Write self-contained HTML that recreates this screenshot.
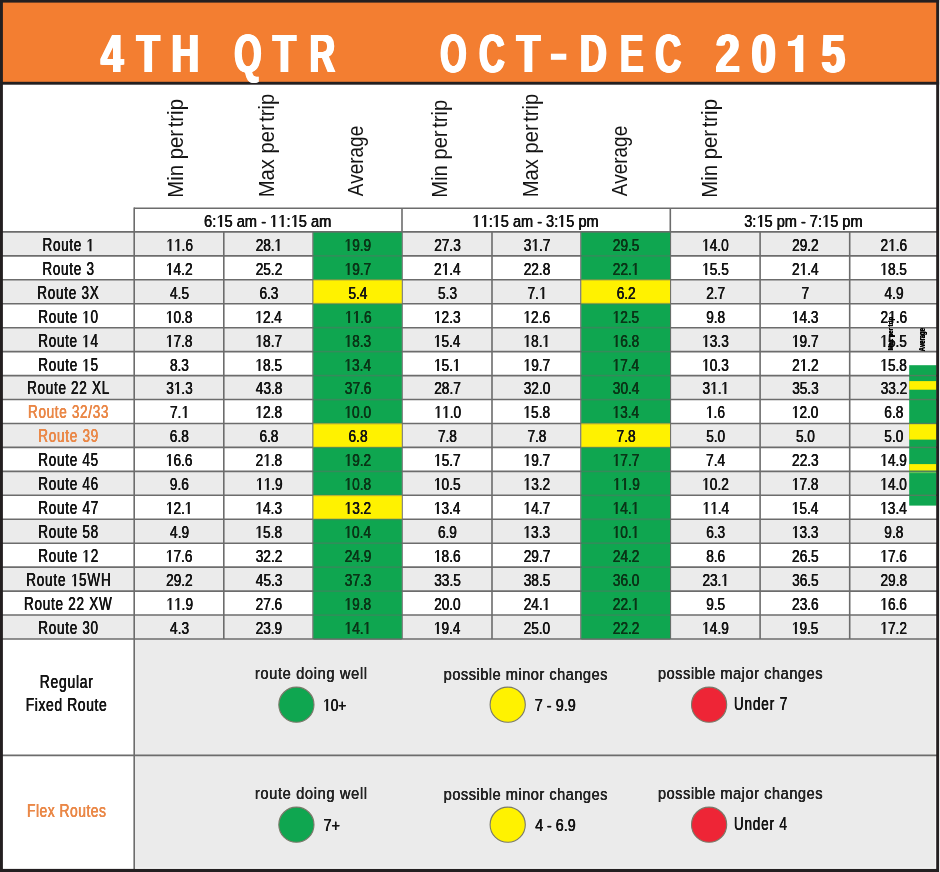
<!DOCTYPE html>
<html><head><meta charset="utf-8"><title>4TH QTR OCT-DEC 2015</title>
<style>
html,body{margin:0;padding:0;background:#fff;overflow:hidden;}
#p{will-change:transform;position:relative;width:940px;height:872px;overflow:hidden;font-family:"Liberation Sans",sans-serif;}
#bg{position:absolute;left:0;top:0;}
svg.g1{position:static;display:inline-block;width:0.5562em;height:0.688em;vertical-align:baseline;fill:currentColor;overflow:visible;}
.t{font-kerning:none;position:absolute;left:0;top:0;line-height:1;white-space:nowrap;transform-origin:0 0;}
</style></head><body>
<div id="p">
<svg id="bg" width="940" height="872" viewBox="0 0 940 872" shape-rendering="geometricPrecision">
<rect x="0.00" y="0.00" width="940.00" height="872.00" fill="#ffffff"/>
<rect x="0.00" y="0.00" width="940.00" height="82.00" fill="#f37e31"/>
<rect x="0.00" y="81.80" width="940.00" height="2.90" fill="#231f20"/>
<rect x="2.00" y="231.90" width="933.50" height="23.95" fill="#ebebeb"/>
<rect x="2.00" y="279.79" width="933.50" height="23.95" fill="#ebebeb"/>
<rect x="2.00" y="327.69" width="933.50" height="23.95" fill="#ebebeb"/>
<rect x="2.00" y="375.58" width="933.50" height="23.95" fill="#ebebeb"/>
<rect x="2.00" y="423.48" width="933.50" height="23.95" fill="#ebebeb"/>
<rect x="2.00" y="471.37" width="933.50" height="23.95" fill="#ebebeb"/>
<rect x="2.00" y="519.26" width="933.50" height="23.95" fill="#ebebeb"/>
<rect x="2.00" y="567.16" width="933.50" height="23.95" fill="#ebebeb"/>
<rect x="2.00" y="615.05" width="933.50" height="23.95" fill="#ebebeb"/>
<rect x="134.30" y="639.00" width="801.20" height="228.80" fill="#ebebeb"/>
<line x1="2.00" y1="231.90" x2="937.00" y2="231.90" stroke="#6c6c6c" stroke-width="1.6"/>
<line x1="2.00" y1="255.85" x2="937.00" y2="255.85" stroke="#6c6c6c" stroke-width="1.6"/>
<line x1="2.00" y1="279.79" x2="937.00" y2="279.79" stroke="#6c6c6c" stroke-width="1.6"/>
<line x1="2.00" y1="303.74" x2="937.00" y2="303.74" stroke="#6c6c6c" stroke-width="1.6"/>
<line x1="2.00" y1="327.69" x2="937.00" y2="327.69" stroke="#6c6c6c" stroke-width="1.6"/>
<line x1="2.00" y1="351.64" x2="937.00" y2="351.64" stroke="#6c6c6c" stroke-width="1.6"/>
<line x1="2.00" y1="375.58" x2="937.00" y2="375.58" stroke="#6c6c6c" stroke-width="1.6"/>
<line x1="2.00" y1="399.53" x2="937.00" y2="399.53" stroke="#6c6c6c" stroke-width="1.6"/>
<line x1="2.00" y1="423.48" x2="937.00" y2="423.48" stroke="#6c6c6c" stroke-width="1.6"/>
<line x1="2.00" y1="447.42" x2="937.00" y2="447.42" stroke="#6c6c6c" stroke-width="1.6"/>
<line x1="2.00" y1="471.37" x2="937.00" y2="471.37" stroke="#6c6c6c" stroke-width="1.6"/>
<line x1="2.00" y1="495.32" x2="937.00" y2="495.32" stroke="#6c6c6c" stroke-width="1.6"/>
<line x1="2.00" y1="519.26" x2="937.00" y2="519.26" stroke="#6c6c6c" stroke-width="1.6"/>
<line x1="2.00" y1="543.21" x2="937.00" y2="543.21" stroke="#6c6c6c" stroke-width="1.6"/>
<line x1="2.00" y1="567.16" x2="937.00" y2="567.16" stroke="#6c6c6c" stroke-width="1.6"/>
<line x1="2.00" y1="591.11" x2="937.00" y2="591.11" stroke="#6c6c6c" stroke-width="1.6"/>
<line x1="2.00" y1="615.05" x2="937.00" y2="615.05" stroke="#6c6c6c" stroke-width="1.6"/>
<line x1="2.00" y1="639.00" x2="937.00" y2="639.00" stroke="#6c6c6c" stroke-width="1.6"/>
<line x1="134.00" y1="208.20" x2="937.00" y2="208.20" stroke="#6c6c6c" stroke-width="1.6"/>
<line x1="2.00" y1="755.40" x2="937.00" y2="755.40" stroke="#6c6c6c" stroke-width="1.6"/>
<line x1="134.20" y1="207.50" x2="134.20" y2="869.00" stroke="#6c6c6c" stroke-width="1.6"/>
<line x1="402.00" y1="208.20" x2="402.00" y2="639.00" stroke="#6c6c6c" stroke-width="1.6"/>
<line x1="670.30" y1="208.20" x2="670.30" y2="639.00" stroke="#6c6c6c" stroke-width="1.6"/>
<line x1="223.80" y1="231.90" x2="223.80" y2="639.00" stroke="#6c6c6c" stroke-width="1.6"/>
<line x1="313.10" y1="231.90" x2="313.10" y2="639.00" stroke="#6c6c6c" stroke-width="1.6"/>
<line x1="492.00" y1="231.90" x2="492.00" y2="639.00" stroke="#6c6c6c" stroke-width="1.6"/>
<line x1="581.00" y1="231.90" x2="581.00" y2="639.00" stroke="#6c6c6c" stroke-width="1.6"/>
<line x1="760.10" y1="231.90" x2="760.10" y2="639.00" stroke="#6c6c6c" stroke-width="1.6"/>
<line x1="849.70" y1="231.90" x2="849.70" y2="639.00" stroke="#6c6c6c" stroke-width="1.6"/>
<rect x="313.45" y="231.80" width="88.30" height="24.15" fill="#0fa650"/>
<rect x="581.35" y="231.80" width="88.70" height="24.15" fill="#0fa650"/>
<rect x="313.45" y="255.75" width="88.30" height="24.15" fill="#0fa650"/>
<rect x="581.35" y="255.75" width="88.70" height="24.15" fill="#0fa650"/>
<rect x="313.45" y="279.69" width="88.30" height="24.15" fill="#fff200"/>
<rect x="581.35" y="279.69" width="88.70" height="24.15" fill="#fff200"/>
<rect x="313.45" y="303.64" width="88.30" height="24.15" fill="#0fa650"/>
<rect x="581.35" y="303.64" width="88.70" height="24.15" fill="#0fa650"/>
<rect x="313.45" y="327.59" width="88.30" height="24.15" fill="#0fa650"/>
<rect x="581.35" y="327.59" width="88.70" height="24.15" fill="#0fa650"/>
<rect x="313.45" y="351.54" width="88.30" height="24.15" fill="#0fa650"/>
<rect x="581.35" y="351.54" width="88.70" height="24.15" fill="#0fa650"/>
<rect x="313.45" y="375.48" width="88.30" height="24.15" fill="#0fa650"/>
<rect x="581.35" y="375.48" width="88.70" height="24.15" fill="#0fa650"/>
<rect x="313.45" y="399.43" width="88.30" height="24.15" fill="#0fa650"/>
<rect x="581.35" y="399.43" width="88.70" height="24.15" fill="#0fa650"/>
<rect x="313.45" y="423.38" width="88.30" height="24.15" fill="#fff200"/>
<rect x="581.35" y="423.38" width="88.70" height="24.15" fill="#fff200"/>
<rect x="313.45" y="447.32" width="88.30" height="24.15" fill="#0fa650"/>
<rect x="581.35" y="447.32" width="88.70" height="24.15" fill="#0fa650"/>
<rect x="313.45" y="471.27" width="88.30" height="24.15" fill="#0fa650"/>
<rect x="581.35" y="471.27" width="88.70" height="24.15" fill="#0fa650"/>
<rect x="313.45" y="495.22" width="88.30" height="24.15" fill="#fff200"/>
<rect x="581.35" y="495.22" width="88.70" height="24.15" fill="#0fa650"/>
<rect x="313.45" y="519.16" width="88.30" height="24.15" fill="#0fa650"/>
<rect x="581.35" y="519.16" width="88.70" height="24.15" fill="#0fa650"/>
<rect x="313.45" y="543.11" width="88.30" height="24.15" fill="#0fa650"/>
<rect x="581.35" y="543.11" width="88.70" height="24.15" fill="#0fa650"/>
<rect x="313.45" y="567.06" width="88.30" height="24.15" fill="#0fa650"/>
<rect x="581.35" y="567.06" width="88.70" height="24.15" fill="#0fa650"/>
<rect x="313.45" y="591.01" width="88.30" height="24.15" fill="#0fa650"/>
<rect x="581.35" y="591.01" width="88.70" height="24.15" fill="#0fa650"/>
<rect x="313.45" y="614.95" width="88.30" height="24.15" fill="#0fa650"/>
<rect x="581.35" y="614.95" width="88.70" height="24.15" fill="#0fa650"/>
<line x1="313.45" y1="255.85" x2="401.75" y2="255.85" stroke="rgba(110,100,110,0.33)" stroke-width="1.8"/>
<line x1="313.45" y1="279.79" x2="401.75" y2="279.79" stroke="rgba(110,100,110,0.33)" stroke-width="1.8"/>
<line x1="313.45" y1="303.74" x2="401.75" y2="303.74" stroke="rgba(110,100,110,0.33)" stroke-width="1.8"/>
<line x1="313.45" y1="327.69" x2="401.75" y2="327.69" stroke="rgba(110,100,110,0.33)" stroke-width="1.8"/>
<line x1="313.45" y1="351.64" x2="401.75" y2="351.64" stroke="rgba(110,100,110,0.33)" stroke-width="1.8"/>
<line x1="313.45" y1="375.58" x2="401.75" y2="375.58" stroke="rgba(110,100,110,0.33)" stroke-width="1.8"/>
<line x1="313.45" y1="399.53" x2="401.75" y2="399.53" stroke="rgba(110,100,110,0.33)" stroke-width="1.8"/>
<line x1="313.45" y1="423.48" x2="401.75" y2="423.48" stroke="rgba(110,100,110,0.33)" stroke-width="1.8"/>
<line x1="313.45" y1="447.42" x2="401.75" y2="447.42" stroke="rgba(110,100,110,0.33)" stroke-width="1.8"/>
<line x1="313.45" y1="471.37" x2="401.75" y2="471.37" stroke="rgba(110,100,110,0.33)" stroke-width="1.8"/>
<line x1="313.45" y1="495.32" x2="401.75" y2="495.32" stroke="rgba(110,100,110,0.33)" stroke-width="1.8"/>
<line x1="313.45" y1="519.26" x2="401.75" y2="519.26" stroke="rgba(110,100,110,0.33)" stroke-width="1.8"/>
<line x1="313.45" y1="543.21" x2="401.75" y2="543.21" stroke="rgba(110,100,110,0.33)" stroke-width="1.8"/>
<line x1="313.45" y1="567.16" x2="401.75" y2="567.16" stroke="rgba(110,100,110,0.33)" stroke-width="1.8"/>
<line x1="313.45" y1="591.11" x2="401.75" y2="591.11" stroke="rgba(110,100,110,0.33)" stroke-width="1.8"/>
<line x1="313.45" y1="615.05" x2="401.75" y2="615.05" stroke="rgba(110,100,110,0.33)" stroke-width="1.8"/>
<line x1="313.45" y1="231.90" x2="401.75" y2="231.90" stroke="rgba(108,108,108,0.8)" stroke-width="1.6"/>
<line x1="313.45" y1="639.00" x2="401.75" y2="639.00" stroke="rgba(108,108,108,0.8)" stroke-width="1.6"/>
<line x1="581.35" y1="255.85" x2="670.05" y2="255.85" stroke="rgba(110,100,110,0.33)" stroke-width="1.8"/>
<line x1="581.35" y1="279.79" x2="670.05" y2="279.79" stroke="rgba(110,100,110,0.33)" stroke-width="1.8"/>
<line x1="581.35" y1="303.74" x2="670.05" y2="303.74" stroke="rgba(110,100,110,0.33)" stroke-width="1.8"/>
<line x1="581.35" y1="327.69" x2="670.05" y2="327.69" stroke="rgba(110,100,110,0.33)" stroke-width="1.8"/>
<line x1="581.35" y1="351.64" x2="670.05" y2="351.64" stroke="rgba(110,100,110,0.33)" stroke-width="1.8"/>
<line x1="581.35" y1="375.58" x2="670.05" y2="375.58" stroke="rgba(110,100,110,0.33)" stroke-width="1.8"/>
<line x1="581.35" y1="399.53" x2="670.05" y2="399.53" stroke="rgba(110,100,110,0.33)" stroke-width="1.8"/>
<line x1="581.35" y1="423.48" x2="670.05" y2="423.48" stroke="rgba(110,100,110,0.33)" stroke-width="1.8"/>
<line x1="581.35" y1="447.42" x2="670.05" y2="447.42" stroke="rgba(110,100,110,0.33)" stroke-width="1.8"/>
<line x1="581.35" y1="471.37" x2="670.05" y2="471.37" stroke="rgba(110,100,110,0.33)" stroke-width="1.8"/>
<line x1="581.35" y1="495.32" x2="670.05" y2="495.32" stroke="rgba(110,100,110,0.33)" stroke-width="1.8"/>
<line x1="581.35" y1="519.26" x2="670.05" y2="519.26" stroke="rgba(110,100,110,0.33)" stroke-width="1.8"/>
<line x1="581.35" y1="543.21" x2="670.05" y2="543.21" stroke="rgba(110,100,110,0.33)" stroke-width="1.8"/>
<line x1="581.35" y1="567.16" x2="670.05" y2="567.16" stroke="rgba(110,100,110,0.33)" stroke-width="1.8"/>
<line x1="581.35" y1="591.11" x2="670.05" y2="591.11" stroke="rgba(110,100,110,0.33)" stroke-width="1.8"/>
<line x1="581.35" y1="615.05" x2="670.05" y2="615.05" stroke="rgba(110,100,110,0.33)" stroke-width="1.8"/>
<line x1="581.35" y1="231.90" x2="670.05" y2="231.90" stroke="rgba(108,108,108,0.8)" stroke-width="1.6"/>
<line x1="581.35" y1="639.00" x2="670.05" y2="639.00" stroke="rgba(108,108,108,0.8)" stroke-width="1.6"/>
<rect x="909.20" y="365.20" width="27.40" height="140.40" fill="#0fa650"/>
<rect x="909.20" y="381.10" width="27.40" height="8.60" fill="#fff200"/>
<rect x="909.20" y="423.50" width="27.40" height="16.10" fill="#fff200"/>
<rect x="909.20" y="464.10" width="27.40" height="6.60" fill="#fff200"/>
<rect x="909.20" y="472.30" width="27.40" height="0.80" fill="#8ed25a"/>
<line x1="909.20" y1="375.58" x2="936.60" y2="375.58" stroke="#4f7f5e" stroke-width="1.4"/>
<line x1="909.20" y1="399.53" x2="936.60" y2="399.53" stroke="#4f7f5e" stroke-width="1.4"/>
<line x1="909.20" y1="423.48" x2="936.60" y2="423.48" stroke="#4f7f5e" stroke-width="1.4"/>
<line x1="909.20" y1="447.42" x2="936.60" y2="447.42" stroke="#4f7f5e" stroke-width="1.4"/>
<line x1="909.20" y1="471.37" x2="936.60" y2="471.37" stroke="#4f7f5e" stroke-width="1.4"/>
<line x1="909.20" y1="495.32" x2="936.60" y2="495.32" stroke="#4f7f5e" stroke-width="1.4"/>
<rect x="0.00" y="0.00" width="940.00" height="2.60" fill="#231f20"/>
<rect x="0.00" y="0.00" width="2.90" height="872.00" fill="#231f20"/>
<rect x="936.20" y="0.00" width="2.80" height="872.00" fill="#231f20"/>
<rect x="0.00" y="868.90" width="939.00" height="3.20" fill="#231f20"/>
<rect x="939.10" y="0.00" width="1.00" height="872.00" fill="#e2e2e2"/>
<circle cx="296.4" cy="704.7" r="17.6" fill="#0fa650" stroke="#7a7a6a" stroke-width="1.1"/>
<circle cx="507.7" cy="704.7" r="17.6" fill="#fff200" stroke="#7a7a6a" stroke-width="1.1"/>
<circle cx="709.1" cy="704.7" r="17.6" fill="#ee2536" stroke="#7a7a6a" stroke-width="1.1"/>
<circle cx="296.4" cy="824.7" r="17.6" fill="#0fa650" stroke="#7a7a6a" stroke-width="1.1"/>
<circle cx="507.7" cy="824.7" r="17.6" fill="#fff200" stroke="#7a7a6a" stroke-width="1.1"/>
<circle cx="709.1" cy="824.7" r="17.6" fill="#ee2536" stroke="#7a7a6a" stroke-width="1.1"/>
<rect x="550.9" y="53.7" width="15.4" height="6.1" fill="#ffffff"/>
<path d="M803.3 34.9 L803.3 72 L795.1 72 L795.1 45.9 L787.9 45.9 L787.9 41.2 Q796.6 41.0 797.8 34.9 Z" fill="#ffffff"/>
</svg>
<div class="t" style="font-size:54px;font-weight:bold;color:#ffffff;text-shadow:1.60px 0 0 #ffffff,-1.60px 0 0 #ffffff,0.80px 0 0 #ffffff,-0.80px 0 0 #ffffff;transform:translate(100.89px,26.00px) scale(0.7479,1);">4</div>
<div class="t" style="font-size:54px;font-weight:bold;color:#ffffff;text-shadow:1.60px 0 0 #ffffff,-1.60px 0 0 #ffffff,0.80px 0 0 #ffffff,-0.80px 0 0 #ffffff;transform:translate(136.74px,26.00px) scale(0.7017,1);">T</div>
<div class="t" style="font-size:54px;font-weight:bold;color:#ffffff;text-shadow:1.60px 0 0 #ffffff,-1.60px 0 0 #ffffff,0.80px 0 0 #ffffff,-0.80px 0 0 #ffffff;transform:translate(171.44px,26.00px) scale(0.7130,1);">H</div>
<div class="t" style="font-size:54px;font-weight:bold;color:#ffffff;text-shadow:1.60px 0 0 #ffffff,-1.60px 0 0 #ffffff,0.80px 0 0 #ffffff,-0.80px 0 0 #ffffff;transform:translate(234.24px,26.00px) scale(0.6506,1);">Q</div>
<div class="t" style="font-size:54px;font-weight:bold;color:#ffffff;text-shadow:1.60px 0 0 #ffffff,-1.60px 0 0 #ffffff,0.80px 0 0 #ffffff,-0.80px 0 0 #ffffff;transform:translate(272.94px,26.00px) scale(0.6988,1);">T</div>
<div class="t" style="font-size:54px;font-weight:bold;color:#ffffff;text-shadow:1.60px 0 0 #ffffff,-1.60px 0 0 #ffffff,0.80px 0 0 #ffffff,-0.80px 0 0 #ffffff;transform:translate(309.45px,26.00px) scale(0.6585,1);">R</div>
<div class="t" style="font-size:54px;font-weight:bold;color:#ffffff;text-shadow:1.60px 0 0 #ffffff,-1.60px 0 0 #ffffff,0.80px 0 0 #ffffff,-0.80px 0 0 #ffffff;transform:translate(440.15px,26.00px) scale(0.6261,1);">O</div>
<div class="t" style="font-size:54px;font-weight:bold;color:#ffffff;text-shadow:1.60px 0 0 #ffffff,-1.60px 0 0 #ffffff,0.80px 0 0 #ffffff,-0.80px 0 0 #ffffff;transform:translate(479.13px,26.00px) scale(0.6534,1);">C</div>
<div class="t" style="font-size:54px;font-weight:bold;color:#ffffff;text-shadow:1.60px 0 0 #ffffff,-1.60px 0 0 #ffffff,0.80px 0 0 #ffffff,-0.80px 0 0 #ffffff;transform:translate(516.56px,26.00px) scale(0.7131,1);">T</div>
<div class="t" style="font-size:54px;font-weight:bold;color:#ffffff;text-shadow:1.60px 0 0 #ffffff,-1.60px 0 0 #ffffff,0.80px 0 0 #ffffff,-0.80px 0 0 #ffffff;transform:translate(579.79px,26.00px) scale(0.6892,1);">D</div>
<div class="t" style="font-size:54px;font-weight:bold;color:#ffffff;text-shadow:1.60px 0 0 #ffffff,-1.60px 0 0 #ffffff,0.80px 0 0 #ffffff,-0.80px 0 0 #ffffff;transform:translate(620.07px,26.00px) scale(0.6519,1);">E</div>
<div class="t" style="font-size:54px;font-weight:bold;color:#ffffff;text-shadow:1.60px 0 0 #ffffff,-1.60px 0 0 #ffffff,0.80px 0 0 #ffffff,-0.80px 0 0 #ffffff;transform:translate(655.33px,26.00px) scale(0.6611,1);">C</div>
<div class="t" style="font-size:54px;font-weight:bold;color:#ffffff;text-shadow:1.60px 0 0 #ffffff,-1.60px 0 0 #ffffff,0.80px 0 0 #ffffff,-0.80px 0 0 #ffffff;transform:translate(715.67px,26.00px) scale(0.7999,1);">2</div>
<div class="t" style="font-size:54px;font-weight:bold;color:#ffffff;text-shadow:1.60px 0 0 #ffffff,-1.60px 0 0 #ffffff,0.80px 0 0 #ffffff,-0.80px 0 0 #ffffff;transform:translate(751.65px,26.00px) scale(0.8007,1);">0</div>
<div class="t" style="font-size:54px;font-weight:bold;color:#ffffff;text-shadow:1.60px 0 0 #ffffff,-1.60px 0 0 #ffffff,0.80px 0 0 #ffffff,-0.80px 0 0 #ffffff;transform:translate(821.48px,26.00px) scale(0.7850,1);">5</div>
<div class="t" style="font-size:22.3px;font-weight:normal;color:#141414;transform:translate(183.10px,196.00px) rotate(-90deg) scale(0.9120,1) translate(-1.84px,-18.00px);">Min per<span style="margin-left:-3.4px"> </span>trip</div>
<div class="t" style="font-size:22.3px;font-weight:normal;color:#141414;transform:translate(273.90px,195.50px) rotate(-90deg) scale(0.9036,1) translate(-1.84px,-18.00px);">Max per<span style="margin-left:-3.4px"> </span>trip</div>
<div class="t" style="font-size:22.3px;font-weight:normal;color:#141414;transform:translate(363.10px,196.30px) rotate(-90deg) scale(0.8491,1) translate(-0.06px,-18.00px);">Average</div>
<div class="t" style="font-size:22.3px;font-weight:normal;color:#141414;transform:translate(446.90px,196.00px) rotate(-90deg) scale(0.9044,1) translate(-1.84px,-18.00px);">Min per<span style="margin-left:-3.4px"> </span>trip</div>
<div class="t" style="font-size:22.3px;font-weight:normal;color:#141414;transform:translate(538.00px,195.50px) rotate(-90deg) scale(0.9036,1) translate(-1.84px,-18.00px);">Max per<span style="margin-left:-3.4px"> </span>trip</div>
<div class="t" style="font-size:22.3px;font-weight:normal;color:#141414;transform:translate(627.30px,196.30px) rotate(-90deg) scale(0.8491,1) translate(-0.06px,-18.00px);">Average</div>
<div class="t" style="font-size:22.3px;font-weight:normal;color:#141414;transform:translate(717.40px,196.00px) rotate(-90deg) scale(0.9120,1) translate(-1.84px,-18.00px);">Min per<span style="margin-left:-3.4px"> </span>trip</div>
<div class="t" style="font-size:17.4px;font-weight:normal;color:#141414;text-shadow:0.30px 0 0 #141414,-0.30px 0 0 #141414;transform:translate(204.02px,213.00px) scale(0.8442,1);">6:<svg class="g1" style="" viewBox="0 0 1139 1409"><path transform="translate(0,1409) scale(1,-1)" d="M455 0V1237L162 1010V1180L495 1409H756V0Z"/></svg>5 am - <svg class="g1" style="" viewBox="0 0 1139 1409"><path transform="translate(0,1409) scale(1,-1)" d="M455 0V1237L162 1010V1180L495 1409H756V0Z"/></svg><svg class="g1" style="" viewBox="0 0 1139 1409"><path transform="translate(0,1409) scale(1,-1)" d="M455 0V1237L162 1010V1180L495 1409H756V0Z"/></svg>:<svg class="g1" style="" viewBox="0 0 1139 1409"><path transform="translate(0,1409) scale(1,-1)" d="M455 0V1237L162 1010V1180L495 1409H756V0Z"/></svg>5 am</div>
<div class="t" style="font-size:17.4px;font-weight:normal;color:#141414;text-shadow:0.30px 0 0 #141414,-0.30px 0 0 #141414;transform:translate(472.46px,213.00px) scale(0.8372,1);"><svg class="g1" style="" viewBox="0 0 1139 1409"><path transform="translate(0,1409) scale(1,-1)" d="M455 0V1237L162 1010V1180L495 1409H756V0Z"/></svg><svg class="g1" style="" viewBox="0 0 1139 1409"><path transform="translate(0,1409) scale(1,-1)" d="M455 0V1237L162 1010V1180L495 1409H756V0Z"/></svg>:<svg class="g1" style="" viewBox="0 0 1139 1409"><path transform="translate(0,1409) scale(1,-1)" d="M455 0V1237L162 1010V1180L495 1409H756V0Z"/></svg>5 am - 3:<svg class="g1" style="" viewBox="0 0 1139 1409"><path transform="translate(0,1409) scale(1,-1)" d="M455 0V1237L162 1010V1180L495 1409H756V0Z"/></svg>5 pm</div>
<div class="t" style="font-size:17.4px;font-weight:normal;color:#141414;text-shadow:0.30px 0 0 #141414,-0.30px 0 0 #141414;transform:translate(744.20px,213.00px) scale(0.8385,1);">3:<svg class="g1" style="" viewBox="0 0 1139 1409"><path transform="translate(0,1409) scale(1,-1)" d="M455 0V1237L162 1010V1180L495 1409H756V0Z"/></svg>5 pm - 7:<svg class="g1" style="" viewBox="0 0 1139 1409"><path transform="translate(0,1409) scale(1,-1)" d="M455 0V1237L162 1010V1180L495 1409H756V0Z"/></svg>5 pm</div>
<div class="t" style="font-size:17.8px;font-weight:normal;color:#141414;letter-spacing:0.945px;text-shadow:0.30px 0 0 #141414,-0.30px 0 0 #141414;transform:translate(42.42px,237.00px) scale(0.7600,1);">Route <svg class="g1" style="margin-right:0.945px;" viewBox="0 0 1139 1409"><path transform="translate(0,1409) scale(1,-1)" d="M455 0V1237L162 1010V1180L495 1409H756V0Z"/></svg></div>
<div class="t" style="font-size:17.4px;font-weight:normal;color:#141414;text-shadow:0.30px 0 0 #141414,-0.30px 0 0 #141414;transform:translate(166.41px,237.00px) scale(0.7850,1);"><svg class="g1" style="" viewBox="0 0 1139 1409"><path transform="translate(0,1409) scale(1,-1)" d="M455 0V1237L162 1010V1180L495 1409H756V0Z"/></svg><svg class="g1" style="" viewBox="0 0 1139 1409"><path transform="translate(0,1409) scale(1,-1)" d="M455 0V1237L162 1010V1180L495 1409H756V0Z"/></svg>.6</div>
<div class="t" style="font-size:17.4px;font-weight:normal;color:#141414;text-shadow:0.30px 0 0 #141414,-0.30px 0 0 #141414;transform:translate(255.65px,237.00px) scale(0.7850,1);">28.<svg class="g1" style="" viewBox="0 0 1139 1409"><path transform="translate(0,1409) scale(1,-1)" d="M455 0V1237L162 1010V1180L495 1409H756V0Z"/></svg></div>
<div class="t" style="font-size:17.4px;font-weight:normal;color:#0a3517;text-shadow:0.30px 0 0 #0a3517,-0.30px 0 0 #0a3517;transform:translate(344.56px,237.00px) scale(0.7850,1);"><svg class="g1" style="" viewBox="0 0 1139 1409"><path transform="translate(0,1409) scale(1,-1)" d="M455 0V1237L162 1010V1180L495 1409H756V0Z"/></svg>9.9</div>
<div class="t" style="font-size:17.4px;font-weight:normal;color:#141414;text-shadow:0.30px 0 0 #141414,-0.30px 0 0 #141414;transform:translate(434.17px,237.00px) scale(0.7850,1);">27.3</div>
<div class="t" style="font-size:17.4px;font-weight:normal;color:#141414;text-shadow:0.30px 0 0 #141414,-0.30px 0 0 #141414;transform:translate(523.80px,237.00px) scale(0.7850,1);">3<svg class="g1" style="" viewBox="0 0 1139 1409"><path transform="translate(0,1409) scale(1,-1)" d="M455 0V1237L162 1010V1180L495 1409H756V0Z"/></svg>.7</div>
<div class="t" style="font-size:17.4px;font-weight:normal;color:#0a3517;text-shadow:0.30px 0 0 #0a3517,-0.30px 0 0 #0a3517;transform:translate(612.80px,237.00px) scale(0.7850,1);">29.5</div>
<div class="t" style="font-size:17.4px;font-weight:normal;color:#141414;text-shadow:0.30px 0 0 #141414,-0.30px 0 0 #141414;transform:translate(702.16px,237.00px) scale(0.7850,1);"><svg class="g1" style="" viewBox="0 0 1139 1409"><path transform="translate(0,1409) scale(1,-1)" d="M455 0V1237L162 1010V1180L495 1409H756V0Z"/></svg>4.0</div>
<div class="t" style="font-size:17.4px;font-weight:normal;color:#141414;text-shadow:0.30px 0 0 #141414,-0.30px 0 0 #141414;transform:translate(792.12px,237.00px) scale(0.7850,1);">29.2</div>
<div class="t" style="font-size:17.4px;font-weight:normal;color:#141414;text-shadow:0.30px 0 0 #141414,-0.30px 0 0 #141414;transform:translate(880.52px,237.00px) scale(0.7850,1);">2<svg class="g1" style="" viewBox="0 0 1139 1409"><path transform="translate(0,1409) scale(1,-1)" d="M455 0V1237L162 1010V1180L495 1409H756V0Z"/></svg>.6</div>
<div class="t" style="font-size:17.8px;font-weight:normal;color:#141414;letter-spacing:0.947px;text-shadow:0.30px 0 0 #141414,-0.30px 0 0 #141414;transform:translate(42.38px,261.00px) scale(0.7600,1);">Route 3</div>
<div class="t" style="font-size:17.4px;font-weight:normal;color:#141414;text-shadow:0.30px 0 0 #141414,-0.30px 0 0 #141414;transform:translate(165.95px,261.00px) scale(0.7850,1);"><svg class="g1" style="" viewBox="0 0 1139 1409"><path transform="translate(0,1409) scale(1,-1)" d="M455 0V1237L162 1010V1180L495 1409H756V0Z"/></svg>4.2</div>
<div class="t" style="font-size:17.4px;font-weight:normal;color:#141414;text-shadow:0.30px 0 0 #141414,-0.30px 0 0 #141414;transform:translate(255.67px,261.00px) scale(0.7850,1);">25.2</div>
<div class="t" style="font-size:17.4px;font-weight:normal;color:#0a3517;text-shadow:0.30px 0 0 #0a3517,-0.30px 0 0 #0a3517;transform:translate(344.60px,261.00px) scale(0.7850,1);"><svg class="g1" style="" viewBox="0 0 1139 1409"><path transform="translate(0,1409) scale(1,-1)" d="M455 0V1237L162 1010V1180L495 1409H756V0Z"/></svg>9.7</div>
<div class="t" style="font-size:17.4px;font-weight:normal;color:#141414;text-shadow:0.30px 0 0 #141414,-0.30px 0 0 #141414;transform:translate(434.06px,261.00px) scale(0.7850,1);">2<svg class="g1" style="" viewBox="0 0 1139 1409"><path transform="translate(0,1409) scale(1,-1)" d="M455 0V1237L162 1010V1180L495 1409H756V0Z"/></svg>.4</div>
<div class="t" style="font-size:17.4px;font-weight:normal;color:#141414;text-shadow:0.30px 0 0 #141414,-0.30px 0 0 #141414;transform:translate(523.67px,261.00px) scale(0.7850,1);">22.8</div>
<div class="t" style="font-size:17.4px;font-weight:normal;color:#0a3517;text-shadow:0.30px 0 0 #0a3517,-0.30px 0 0 #0a3517;transform:translate(612.85px,261.00px) scale(0.7850,1);">22.<svg class="g1" style="" viewBox="0 0 1139 1409"><path transform="translate(0,1409) scale(1,-1)" d="M455 0V1237L162 1010V1180L495 1409H756V0Z"/></svg></div>
<div class="t" style="font-size:17.4px;font-weight:normal;color:#141414;text-shadow:0.30px 0 0 #141414,-0.30px 0 0 #141414;transform:translate(702.18px,261.00px) scale(0.7850,1);"><svg class="g1" style="" viewBox="0 0 1139 1409"><path transform="translate(0,1409) scale(1,-1)" d="M455 0V1237L162 1010V1180L495 1409H756V0Z"/></svg>5.5</div>
<div class="t" style="font-size:17.4px;font-weight:normal;color:#141414;text-shadow:0.30px 0 0 #141414,-0.30px 0 0 #141414;transform:translate(791.96px,261.00px) scale(0.7850,1);">2<svg class="g1" style="" viewBox="0 0 1139 1409"><path transform="translate(0,1409) scale(1,-1)" d="M455 0V1237L162 1010V1180L495 1409H756V0Z"/></svg>.4</div>
<div class="t" style="font-size:17.4px;font-weight:normal;color:#141414;text-shadow:0.30px 0 0 #141414,-0.30px 0 0 #141414;transform:translate(880.33px,261.00px) scale(0.7850,1);"><svg class="g1" style="" viewBox="0 0 1139 1409"><path transform="translate(0,1409) scale(1,-1)" d="M455 0V1237L162 1010V1180L495 1409H756V0Z"/></svg>8.5</div>
<div class="t" style="font-size:17.8px;font-weight:normal;color:#141414;letter-spacing:0.974px;text-shadow:0.30px 0 0 #141414,-0.30px 0 0 #141414;transform:translate(37.30px,285.00px) scale(0.7600,1);">Route 3X</div>
<div class="t" style="font-size:17.4px;font-weight:normal;color:#141414;text-shadow:0.30px 0 0 #141414,-0.30px 0 0 #141414;transform:translate(170.03px,285.00px) scale(0.7850,1);">4.5</div>
<div class="t" style="font-size:17.4px;font-weight:normal;color:#141414;text-shadow:0.30px 0 0 #141414,-0.30px 0 0 #141414;transform:translate(259.41px,285.00px) scale(0.7850,1);">6.3</div>
<div class="t" style="font-size:17.4px;font-weight:normal;color:#141414;text-shadow:0.30px 0 0 #141414,-0.30px 0 0 #141414;transform:translate(348.47px,285.00px) scale(0.7850,1);">5.4</div>
<div class="t" style="font-size:17.4px;font-weight:normal;color:#141414;text-shadow:0.30px 0 0 #141414,-0.30px 0 0 #141414;transform:translate(438.02px,285.00px) scale(0.7850,1);">5.3</div>
<div class="t" style="font-size:17.4px;font-weight:normal;color:#141414;text-shadow:0.30px 0 0 #141414,-0.30px 0 0 #141414;transform:translate(527.49px,285.00px) scale(0.7850,1);">7.<svg class="g1" style="" viewBox="0 0 1139 1409"><path transform="translate(0,1409) scale(1,-1)" d="M455 0V1237L162 1010V1180L495 1409H756V0Z"/></svg></div>
<div class="t" style="font-size:17.4px;font-weight:normal;color:#141414;text-shadow:0.30px 0 0 #141414,-0.30px 0 0 #141414;transform:translate(616.66px,285.00px) scale(0.7850,1);">6.2</div>
<div class="t" style="font-size:17.4px;font-weight:normal;color:#141414;text-shadow:0.30px 0 0 #141414,-0.30px 0 0 #141414;transform:translate(706.21px,285.00px) scale(0.7850,1);">2.7</div>
<div class="t" style="font-size:17.4px;font-weight:normal;color:#141414;text-shadow:0.30px 0 0 #141414,-0.30px 0 0 #141414;transform:translate(801.61px,285.00px) scale(0.7850,1);">7</div>
<div class="t" style="font-size:17.4px;font-weight:normal;color:#141414;text-shadow:0.30px 0 0 #141414,-0.30px 0 0 #141414;transform:translate(884.51px,285.00px) scale(0.7850,1);">4.9</div>
<div class="t" style="font-size:17.8px;font-weight:normal;color:#141414;letter-spacing:0.944px;text-shadow:0.30px 0 0 #141414,-0.30px 0 0 #141414;transform:translate(38.24px,309.00px) scale(0.7600,1);">Route <svg class="g1" style="margin-right:0.944px;" viewBox="0 0 1139 1409"><path transform="translate(0,1409) scale(1,-1)" d="M455 0V1237L162 1010V1180L495 1409H756V0Z"/></svg>0</div>
<div class="t" style="font-size:17.4px;font-weight:normal;color:#141414;text-shadow:0.30px 0 0 #141414,-0.30px 0 0 #141414;transform:translate(165.89px,309.00px) scale(0.7850,1);"><svg class="g1" style="" viewBox="0 0 1139 1409"><path transform="translate(0,1409) scale(1,-1)" d="M455 0V1237L162 1010V1180L495 1409H756V0Z"/></svg>0.8</div>
<div class="t" style="font-size:17.4px;font-weight:normal;color:#141414;text-shadow:0.30px 0 0 #141414,-0.30px 0 0 #141414;transform:translate(255.34px,309.00px) scale(0.7850,1);"><svg class="g1" style="" viewBox="0 0 1139 1409"><path transform="translate(0,1409) scale(1,-1)" d="M455 0V1237L162 1010V1180L495 1409H756V0Z"/></svg>2.4</div>
<div class="t" style="font-size:17.4px;font-weight:normal;color:#0a3517;text-shadow:0.30px 0 0 #0a3517,-0.30px 0 0 #0a3517;transform:translate(345.06px,309.00px) scale(0.7850,1);"><svg class="g1" style="" viewBox="0 0 1139 1409"><path transform="translate(0,1409) scale(1,-1)" d="M455 0V1237L162 1010V1180L495 1409H756V0Z"/></svg><svg class="g1" style="" viewBox="0 0 1139 1409"><path transform="translate(0,1409) scale(1,-1)" d="M455 0V1237L162 1010V1180L495 1409H756V0Z"/></svg>.6</div>
<div class="t" style="font-size:17.4px;font-weight:normal;color:#141414;text-shadow:0.30px 0 0 #141414,-0.30px 0 0 #141414;transform:translate(433.99px,309.00px) scale(0.7850,1);"><svg class="g1" style="" viewBox="0 0 1139 1409"><path transform="translate(0,1409) scale(1,-1)" d="M455 0V1237L162 1010V1180L495 1409H756V0Z"/></svg>2.3</div>
<div class="t" style="font-size:17.4px;font-weight:normal;color:#141414;text-shadow:0.30px 0 0 #141414,-0.30px 0 0 #141414;transform:translate(523.49px,309.00px) scale(0.7850,1);"><svg class="g1" style="" viewBox="0 0 1139 1409"><path transform="translate(0,1409) scale(1,-1)" d="M455 0V1237L162 1010V1180L495 1409H756V0Z"/></svg>2.6</div>
<div class="t" style="font-size:17.4px;font-weight:normal;color:#0a3517;text-shadow:0.30px 0 0 #0a3517,-0.30px 0 0 #0a3517;transform:translate(612.63px,309.00px) scale(0.7850,1);"><svg class="g1" style="" viewBox="0 0 1139 1409"><path transform="translate(0,1409) scale(1,-1)" d="M455 0V1237L162 1010V1180L495 1409H756V0Z"/></svg>2.5</div>
<div class="t" style="font-size:17.4px;font-weight:normal;color:#141414;text-shadow:0.30px 0 0 #141414,-0.30px 0 0 #141414;transform:translate(706.17px,309.00px) scale(0.7850,1);">9.8</div>
<div class="t" style="font-size:17.4px;font-weight:normal;color:#141414;text-shadow:0.30px 0 0 #141414,-0.30px 0 0 #141414;transform:translate(791.89px,309.00px) scale(0.7850,1);"><svg class="g1" style="" viewBox="0 0 1139 1409"><path transform="translate(0,1409) scale(1,-1)" d="M455 0V1237L162 1010V1180L495 1409H756V0Z"/></svg>4.3</div>
<div class="t" style="font-size:17.4px;font-weight:normal;color:#141414;text-shadow:0.30px 0 0 #141414,-0.30px 0 0 #141414;transform:translate(880.52px,309.00px) scale(0.7850,1);">2<svg class="g1" style="" viewBox="0 0 1139 1409"><path transform="translate(0,1409) scale(1,-1)" d="M455 0V1237L162 1010V1180L495 1409H756V0Z"/></svg>.6</div>
<div class="t" style="font-size:17.8px;font-weight:normal;color:#141414;letter-spacing:0.947px;text-shadow:0.30px 0 0 #141414,-0.30px 0 0 #141414;transform:translate(38.17px,333.00px) scale(0.7600,1);">Route <svg class="g1" style="margin-right:0.947px;" viewBox="0 0 1139 1409"><path transform="translate(0,1409) scale(1,-1)" d="M455 0V1237L162 1010V1180L495 1409H756V0Z"/></svg>4</div>
<div class="t" style="font-size:17.4px;font-weight:normal;color:#141414;text-shadow:0.30px 0 0 #141414,-0.30px 0 0 #141414;transform:translate(165.89px,333.00px) scale(0.7850,1);"><svg class="g1" style="" viewBox="0 0 1139 1409"><path transform="translate(0,1409) scale(1,-1)" d="M455 0V1237L162 1010V1180L495 1409H756V0Z"/></svg>7.8</div>
<div class="t" style="font-size:17.4px;font-weight:normal;color:#141414;text-shadow:0.30px 0 0 #141414,-0.30px 0 0 #141414;transform:translate(255.50px,333.00px) scale(0.7850,1);"><svg class="g1" style="" viewBox="0 0 1139 1409"><path transform="translate(0,1409) scale(1,-1)" d="M455 0V1237L162 1010V1180L495 1409H756V0Z"/></svg>8.7</div>
<div class="t" style="font-size:17.4px;font-weight:normal;color:#0a3517;text-shadow:0.30px 0 0 #0a3517,-0.30px 0 0 #0a3517;transform:translate(344.54px,333.00px) scale(0.7850,1);"><svg class="g1" style="" viewBox="0 0 1139 1409"><path transform="translate(0,1409) scale(1,-1)" d="M455 0V1237L162 1010V1180L495 1409H756V0Z"/></svg>8.3</div>
<div class="t" style="font-size:17.4px;font-weight:normal;color:#141414;text-shadow:0.30px 0 0 #141414,-0.30px 0 0 #141414;transform:translate(433.89px,333.00px) scale(0.7850,1);"><svg class="g1" style="" viewBox="0 0 1139 1409"><path transform="translate(0,1409) scale(1,-1)" d="M455 0V1237L162 1010V1180L495 1409H756V0Z"/></svg>5.4</div>
<div class="t" style="font-size:17.4px;font-weight:normal;color:#141414;text-shadow:0.30px 0 0 #141414,-0.30px 0 0 #141414;transform:translate(523.53px,333.00px) scale(0.7850,1);"><svg class="g1" style="" viewBox="0 0 1139 1409"><path transform="translate(0,1409) scale(1,-1)" d="M455 0V1237L162 1010V1180L495 1409H756V0Z"/></svg>8.<svg class="g1" style="" viewBox="0 0 1139 1409"><path transform="translate(0,1409) scale(1,-1)" d="M455 0V1237L162 1010V1180L495 1409H756V0Z"/></svg></div>
<div class="t" style="font-size:17.4px;font-weight:normal;color:#0a3517;text-shadow:0.30px 0 0 #0a3517,-0.30px 0 0 #0a3517;transform:translate(612.64px,333.00px) scale(0.7850,1);"><svg class="g1" style="" viewBox="0 0 1139 1409"><path transform="translate(0,1409) scale(1,-1)" d="M455 0V1237L162 1010V1180L495 1409H756V0Z"/></svg>6.8</div>
<div class="t" style="font-size:17.4px;font-weight:normal;color:#141414;text-shadow:0.30px 0 0 #141414,-0.30px 0 0 #141414;transform:translate(702.19px,333.00px) scale(0.7850,1);"><svg class="g1" style="" viewBox="0 0 1139 1409"><path transform="translate(0,1409) scale(1,-1)" d="M455 0V1237L162 1010V1180L495 1409H756V0Z"/></svg>3.3</div>
<div class="t" style="font-size:17.4px;font-weight:normal;color:#141414;text-shadow:0.30px 0 0 #141414,-0.30px 0 0 #141414;transform:translate(791.95px,333.00px) scale(0.7850,1);"><svg class="g1" style="" viewBox="0 0 1139 1409"><path transform="translate(0,1409) scale(1,-1)" d="M455 0V1237L162 1010V1180L495 1409H756V0Z"/></svg>9.7</div>
<div class="t" style="font-size:17.4px;font-weight:normal;color:#141414;text-shadow:0.30px 0 0 #141414,-0.30px 0 0 #141414;transform:translate(880.33px,333.00px) scale(0.7850,1);"><svg class="g1" style="" viewBox="0 0 1139 1409"><path transform="translate(0,1409) scale(1,-1)" d="M455 0V1237L162 1010V1180L495 1409H756V0Z"/></svg>5.5</div>
<div class="t" style="font-size:17.8px;font-weight:normal;color:#141414;letter-spacing:0.944px;text-shadow:0.30px 0 0 #141414,-0.30px 0 0 #141414;transform:translate(38.26px,357.00px) scale(0.7600,1);">Route <svg class="g1" style="margin-right:0.944px;" viewBox="0 0 1139 1409"><path transform="translate(0,1409) scale(1,-1)" d="M455 0V1237L162 1010V1180L495 1409H756V0Z"/></svg>5</div>
<div class="t" style="font-size:17.4px;font-weight:normal;color:#141414;text-shadow:0.30px 0 0 #141414,-0.30px 0 0 #141414;transform:translate(169.91px,357.00px) scale(0.7850,1);">8.3</div>
<div class="t" style="font-size:17.4px;font-weight:normal;color:#141414;text-shadow:0.30px 0 0 #141414,-0.30px 0 0 #141414;transform:translate(255.43px,357.00px) scale(0.7850,1);"><svg class="g1" style="" viewBox="0 0 1139 1409"><path transform="translate(0,1409) scale(1,-1)" d="M455 0V1237L162 1010V1180L495 1409H756V0Z"/></svg>8.5</div>
<div class="t" style="font-size:17.4px;font-weight:normal;color:#0a3517;text-shadow:0.30px 0 0 #0a3517,-0.30px 0 0 #0a3517;transform:translate(344.44px,357.00px) scale(0.7850,1);"><svg class="g1" style="" viewBox="0 0 1139 1409"><path transform="translate(0,1409) scale(1,-1)" d="M455 0V1237L162 1010V1180L495 1409H756V0Z"/></svg>3.4</div>
<div class="t" style="font-size:17.4px;font-weight:normal;color:#141414;text-shadow:0.30px 0 0 #141414,-0.30px 0 0 #141414;transform:translate(434.03px,357.00px) scale(0.7850,1);"><svg class="g1" style="" viewBox="0 0 1139 1409"><path transform="translate(0,1409) scale(1,-1)" d="M455 0V1237L162 1010V1180L495 1409H756V0Z"/></svg>5.<svg class="g1" style="" viewBox="0 0 1139 1409"><path transform="translate(0,1409) scale(1,-1)" d="M455 0V1237L162 1010V1180L495 1409H756V0Z"/></svg></div>
<div class="t" style="font-size:17.4px;font-weight:normal;color:#141414;text-shadow:0.30px 0 0 #141414,-0.30px 0 0 #141414;transform:translate(523.55px,357.00px) scale(0.7850,1);"><svg class="g1" style="" viewBox="0 0 1139 1409"><path transform="translate(0,1409) scale(1,-1)" d="M455 0V1237L162 1010V1180L495 1409H756V0Z"/></svg>9.7</div>
<div class="t" style="font-size:17.4px;font-weight:normal;color:#0a3517;text-shadow:0.30px 0 0 #0a3517,-0.30px 0 0 #0a3517;transform:translate(612.54px,357.00px) scale(0.7850,1);"><svg class="g1" style="" viewBox="0 0 1139 1409"><path transform="translate(0,1409) scale(1,-1)" d="M455 0V1237L162 1010V1180L495 1409H756V0Z"/></svg>7.4</div>
<div class="t" style="font-size:17.4px;font-weight:normal;color:#141414;text-shadow:0.30px 0 0 #141414,-0.30px 0 0 #141414;transform:translate(702.19px,357.00px) scale(0.7850,1);"><svg class="g1" style="" viewBox="0 0 1139 1409"><path transform="translate(0,1409) scale(1,-1)" d="M455 0V1237L162 1010V1180L495 1409H756V0Z"/></svg>0.3</div>
<div class="t" style="font-size:17.4px;font-weight:normal;color:#141414;text-shadow:0.30px 0 0 #141414,-0.30px 0 0 #141414;transform:translate(792.12px,357.00px) scale(0.7850,1);">2<svg class="g1" style="" viewBox="0 0 1139 1409"><path transform="translate(0,1409) scale(1,-1)" d="M455 0V1237L162 1010V1180L495 1409H756V0Z"/></svg>.2</div>
<div class="t" style="font-size:17.4px;font-weight:normal;color:#141414;text-shadow:0.30px 0 0 #141414,-0.30px 0 0 #141414;transform:translate(880.34px,357.00px) scale(0.7850,1);"><svg class="g1" style="" viewBox="0 0 1139 1409"><path transform="translate(0,1409) scale(1,-1)" d="M455 0V1237L162 1010V1180L495 1409H756V0Z"/></svg>5.8</div>
<div class="t" style="font-size:17.8px;font-weight:normal;color:#141414;letter-spacing:0.911px;text-shadow:0.30px 0 0 #141414,-0.30px 0 0 #141414;transform:translate(27.11px,380.00px) scale(0.7600,1);">Route 22 XL</div>
<div class="t" style="font-size:17.4px;font-weight:normal;color:#141414;text-shadow:0.30px 0 0 #141414,-0.30px 0 0 #141414;transform:translate(166.15px,380.00px) scale(0.7850,1);">3<svg class="g1" style="" viewBox="0 0 1139 1409"><path transform="translate(0,1409) scale(1,-1)" d="M455 0V1237L162 1010V1180L495 1409H756V0Z"/></svg>.3</div>
<div class="t" style="font-size:17.4px;font-weight:normal;color:#141414;text-shadow:0.30px 0 0 #141414,-0.30px 0 0 #141414;transform:translate(255.80px,380.00px) scale(0.7850,1);">43.8</div>
<div class="t" style="font-size:17.4px;font-weight:normal;color:#0a3517;text-shadow:0.30px 0 0 #0a3517,-0.30px 0 0 #0a3517;transform:translate(344.80px,380.00px) scale(0.7850,1);">37.6</div>
<div class="t" style="font-size:17.4px;font-weight:normal;color:#141414;text-shadow:0.30px 0 0 #141414,-0.30px 0 0 #141414;transform:translate(434.22px,380.00px) scale(0.7850,1);">28.7</div>
<div class="t" style="font-size:17.4px;font-weight:normal;color:#141414;text-shadow:0.30px 0 0 #141414,-0.30px 0 0 #141414;transform:translate(523.72px,380.00px) scale(0.7850,1);">32.0</div>
<div class="t" style="font-size:17.4px;font-weight:normal;color:#0a3517;text-shadow:0.30px 0 0 #0a3517,-0.30px 0 0 #0a3517;transform:translate(612.80px,380.00px) scale(0.7850,1);">30.4</div>
<div class="t" style="font-size:17.4px;font-weight:normal;color:#141414;text-shadow:0.30px 0 0 #141414,-0.30px 0 0 #141414;transform:translate(702.48px,380.00px) scale(0.7850,1);">3<svg class="g1" style="" viewBox="0 0 1139 1409"><path transform="translate(0,1409) scale(1,-1)" d="M455 0V1237L162 1010V1180L495 1409H756V0Z"/></svg>.<svg class="g1" style="" viewBox="0 0 1139 1409"><path transform="translate(0,1409) scale(1,-1)" d="M455 0V1237L162 1010V1180L495 1409H756V0Z"/></svg></div>
<div class="t" style="font-size:17.4px;font-weight:normal;color:#141414;text-shadow:0.30px 0 0 #141414,-0.30px 0 0 #141414;transform:translate(792.15px,380.00px) scale(0.7850,1);">35.3</div>
<div class="t" style="font-size:17.4px;font-weight:normal;color:#141414;text-shadow:0.30px 0 0 #141414,-0.30px 0 0 #141414;transform:translate(880.65px,380.00px) scale(0.7850,1);">33.2</div>
<div class="t" style="font-size:17.8px;font-weight:normal;color:#ea8848;letter-spacing:0.891px;text-shadow:0.30px 0 0 #ea8848,-0.30px 0 0 #ea8848;transform:translate(28.00px,404.00px) scale(0.7600,1);">Route 32/33</div>
<div class="t" style="font-size:17.4px;font-weight:normal;color:#141414;text-shadow:0.30px 0 0 #141414,-0.30px 0 0 #141414;transform:translate(169.89px,404.00px) scale(0.7850,1);">7.<svg class="g1" style="" viewBox="0 0 1139 1409"><path transform="translate(0,1409) scale(1,-1)" d="M455 0V1237L162 1010V1180L495 1409H756V0Z"/></svg></div>
<div class="t" style="font-size:17.4px;font-weight:normal;color:#141414;text-shadow:0.30px 0 0 #141414,-0.30px 0 0 #141414;transform:translate(255.44px,404.00px) scale(0.7850,1);"><svg class="g1" style="" viewBox="0 0 1139 1409"><path transform="translate(0,1409) scale(1,-1)" d="M455 0V1237L162 1010V1180L495 1409H756V0Z"/></svg>2.8</div>
<div class="t" style="font-size:17.4px;font-weight:normal;color:#0a3517;text-shadow:0.30px 0 0 #0a3517,-0.30px 0 0 #0a3517;transform:translate(344.51px,404.00px) scale(0.7850,1);"><svg class="g1" style="" viewBox="0 0 1139 1409"><path transform="translate(0,1409) scale(1,-1)" d="M455 0V1237L162 1010V1180L495 1409H756V0Z"/></svg>0.0</div>
<div class="t" style="font-size:17.4px;font-weight:normal;color:#141414;text-shadow:0.30px 0 0 #141414,-0.30px 0 0 #141414;transform:translate(434.47px,404.00px) scale(0.7850,1);"><svg class="g1" style="" viewBox="0 0 1139 1409"><path transform="translate(0,1409) scale(1,-1)" d="M455 0V1237L162 1010V1180L495 1409H756V0Z"/></svg><svg class="g1" style="" viewBox="0 0 1139 1409"><path transform="translate(0,1409) scale(1,-1)" d="M455 0V1237L162 1010V1180L495 1409H756V0Z"/></svg>.0</div>
<div class="t" style="font-size:17.4px;font-weight:normal;color:#141414;text-shadow:0.30px 0 0 #141414,-0.30px 0 0 #141414;transform:translate(523.49px,404.00px) scale(0.7850,1);"><svg class="g1" style="" viewBox="0 0 1139 1409"><path transform="translate(0,1409) scale(1,-1)" d="M455 0V1237L162 1010V1180L495 1409H756V0Z"/></svg>5.8</div>
<div class="t" style="font-size:17.4px;font-weight:normal;color:#0a3517;text-shadow:0.30px 0 0 #0a3517,-0.30px 0 0 #0a3517;transform:translate(612.54px,404.00px) scale(0.7850,1);"><svg class="g1" style="" viewBox="0 0 1139 1409"><path transform="translate(0,1409) scale(1,-1)" d="M455 0V1237L162 1010V1180L495 1409H756V0Z"/></svg>3.4</div>
<div class="t" style="font-size:17.4px;font-weight:normal;color:#141414;text-shadow:0.30px 0 0 #141414,-0.30px 0 0 #141414;transform:translate(705.99px,404.00px) scale(0.7850,1);"><svg class="g1" style="" viewBox="0 0 1139 1409"><path transform="translate(0,1409) scale(1,-1)" d="M455 0V1237L162 1010V1180L495 1409H756V0Z"/></svg>.6</div>
<div class="t" style="font-size:17.4px;font-weight:normal;color:#141414;text-shadow:0.30px 0 0 #141414,-0.30px 0 0 #141414;transform:translate(791.86px,404.00px) scale(0.7850,1);"><svg class="g1" style="" viewBox="0 0 1139 1409"><path transform="translate(0,1409) scale(1,-1)" d="M455 0V1237L162 1010V1180L495 1409H756V0Z"/></svg>2.0</div>
<div class="t" style="font-size:17.4px;font-weight:normal;color:#141414;text-shadow:0.30px 0 0 #141414,-0.30px 0 0 #141414;transform:translate(884.31px,404.00px) scale(0.7850,1);">6.8</div>
<div class="t" style="font-size:17.8px;font-weight:normal;color:#ea8848;letter-spacing:0.942px;text-shadow:0.30px 0 0 #ea8848,-0.30px 0 0 #ea8848;transform:translate(38.29px,428.00px) scale(0.7600,1);">Route 39</div>
<div class="t" style="font-size:17.4px;font-weight:normal;color:#141414;text-shadow:0.30px 0 0 #141414,-0.30px 0 0 #141414;transform:translate(169.86px,428.00px) scale(0.7850,1);">6.8</div>
<div class="t" style="font-size:17.4px;font-weight:normal;color:#141414;text-shadow:0.30px 0 0 #141414,-0.30px 0 0 #141414;transform:translate(259.41px,428.00px) scale(0.7850,1);">6.8</div>
<div class="t" style="font-size:17.4px;font-weight:normal;color:#141414;text-shadow:0.30px 0 0 #141414,-0.30px 0 0 #141414;transform:translate(348.51px,428.00px) scale(0.7850,1);">6.8</div>
<div class="t" style="font-size:17.4px;font-weight:normal;color:#141414;text-shadow:0.30px 0 0 #141414,-0.30px 0 0 #141414;transform:translate(437.96px,428.00px) scale(0.7850,1);">7.8</div>
<div class="t" style="font-size:17.4px;font-weight:normal;color:#141414;text-shadow:0.30px 0 0 #141414,-0.30px 0 0 #141414;transform:translate(527.46px,428.00px) scale(0.7850,1);">7.8</div>
<div class="t" style="font-size:17.4px;font-weight:normal;color:#141414;text-shadow:0.30px 0 0 #141414,-0.30px 0 0 #141414;transform:translate(616.61px,428.00px) scale(0.7850,1);">7.8</div>
<div class="t" style="font-size:17.4px;font-weight:normal;color:#141414;text-shadow:0.30px 0 0 #141414,-0.30px 0 0 #141414;transform:translate(706.19px,428.00px) scale(0.7850,1);">5.0</div>
<div class="t" style="font-size:17.4px;font-weight:normal;color:#141414;text-shadow:0.30px 0 0 #141414,-0.30px 0 0 #141414;transform:translate(795.89px,428.00px) scale(0.7850,1);">5.0</div>
<div class="t" style="font-size:17.4px;font-weight:normal;color:#141414;text-shadow:0.30px 0 0 #141414,-0.30px 0 0 #141414;transform:translate(884.34px,428.00px) scale(0.7850,1);">5.0</div>
<div class="t" style="font-size:17.8px;font-weight:normal;color:#141414;letter-spacing:0.944px;text-shadow:0.30px 0 0 #141414,-0.30px 0 0 #141414;transform:translate(38.26px,452.00px) scale(0.7600,1);">Route 45</div>
<div class="t" style="font-size:17.4px;font-weight:normal;color:#141414;text-shadow:0.30px 0 0 #141414,-0.30px 0 0 #141414;transform:translate(165.89px,452.00px) scale(0.7850,1);"><svg class="g1" style="" viewBox="0 0 1139 1409"><path transform="translate(0,1409) scale(1,-1)" d="M455 0V1237L162 1010V1180L495 1409H756V0Z"/></svg>6.6</div>
<div class="t" style="font-size:17.4px;font-weight:normal;color:#141414;text-shadow:0.30px 0 0 #141414,-0.30px 0 0 #141414;transform:translate(255.62px,452.00px) scale(0.7850,1);">2<svg class="g1" style="" viewBox="0 0 1139 1409"><path transform="translate(0,1409) scale(1,-1)" d="M455 0V1237L162 1010V1180L495 1409H756V0Z"/></svg>.8</div>
<div class="t" style="font-size:17.4px;font-weight:normal;color:#0a3517;text-shadow:0.30px 0 0 #0a3517,-0.30px 0 0 #0a3517;transform:translate(344.60px,452.00px) scale(0.7850,1);"><svg class="g1" style="" viewBox="0 0 1139 1409"><path transform="translate(0,1409) scale(1,-1)" d="M455 0V1237L162 1010V1180L495 1409H756V0Z"/></svg>9.2</div>
<div class="t" style="font-size:17.4px;font-weight:normal;color:#141414;text-shadow:0.30px 0 0 #141414,-0.30px 0 0 #141414;transform:translate(434.05px,452.00px) scale(0.7850,1);"><svg class="g1" style="" viewBox="0 0 1139 1409"><path transform="translate(0,1409) scale(1,-1)" d="M455 0V1237L162 1010V1180L495 1409H756V0Z"/></svg>5.7</div>
<div class="t" style="font-size:17.4px;font-weight:normal;color:#141414;text-shadow:0.30px 0 0 #141414,-0.30px 0 0 #141414;transform:translate(523.55px,452.00px) scale(0.7850,1);"><svg class="g1" style="" viewBox="0 0 1139 1409"><path transform="translate(0,1409) scale(1,-1)" d="M455 0V1237L162 1010V1180L495 1409H756V0Z"/></svg>9.7</div>
<div class="t" style="font-size:17.4px;font-weight:normal;color:#0a3517;text-shadow:0.30px 0 0 #0a3517,-0.30px 0 0 #0a3517;transform:translate(612.70px,452.00px) scale(0.7850,1);"><svg class="g1" style="" viewBox="0 0 1139 1409"><path transform="translate(0,1409) scale(1,-1)" d="M455 0V1237L162 1010V1180L495 1409H756V0Z"/></svg>7.7</div>
<div class="t" style="font-size:17.4px;font-weight:normal;color:#141414;text-shadow:0.30px 0 0 #141414,-0.30px 0 0 #141414;transform:translate(706.05px,452.00px) scale(0.7850,1);">7.4</div>
<div class="t" style="font-size:17.4px;font-weight:normal;color:#141414;text-shadow:0.30px 0 0 #141414,-0.30px 0 0 #141414;transform:translate(792.07px,452.00px) scale(0.7850,1);">22.3</div>
<div class="t" style="font-size:17.4px;font-weight:normal;color:#141414;text-shadow:0.30px 0 0 #141414,-0.30px 0 0 #141414;transform:translate(880.36px,452.00px) scale(0.7850,1);"><svg class="g1" style="" viewBox="0 0 1139 1409"><path transform="translate(0,1409) scale(1,-1)" d="M455 0V1237L162 1010V1180L495 1409H756V0Z"/></svg>4.9</div>
<div class="t" style="font-size:17.8px;font-weight:normal;color:#141414;letter-spacing:0.943px;text-shadow:0.30px 0 0 #141414,-0.30px 0 0 #141414;transform:translate(38.28px,476.00px) scale(0.7600,1);">Route 46</div>
<div class="t" style="font-size:17.4px;font-weight:normal;color:#141414;text-shadow:0.30px 0 0 #141414,-0.30px 0 0 #141414;transform:translate(169.87px,476.00px) scale(0.7850,1);">9.6</div>
<div class="t" style="font-size:17.4px;font-weight:normal;color:#141414;text-shadow:0.30px 0 0 #141414,-0.30px 0 0 #141414;transform:translate(255.97px,476.00px) scale(0.7850,1);"><svg class="g1" style="" viewBox="0 0 1139 1409"><path transform="translate(0,1409) scale(1,-1)" d="M455 0V1237L162 1010V1180L495 1409H756V0Z"/></svg><svg class="g1" style="" viewBox="0 0 1139 1409"><path transform="translate(0,1409) scale(1,-1)" d="M455 0V1237L162 1010V1180L495 1409H756V0Z"/></svg>.9</div>
<div class="t" style="font-size:17.4px;font-weight:normal;color:#0a3517;text-shadow:0.30px 0 0 #0a3517,-0.30px 0 0 #0a3517;transform:translate(344.54px,476.00px) scale(0.7850,1);"><svg class="g1" style="" viewBox="0 0 1139 1409"><path transform="translate(0,1409) scale(1,-1)" d="M455 0V1237L162 1010V1180L495 1409H756V0Z"/></svg>0.8</div>
<div class="t" style="font-size:17.4px;font-weight:normal;color:#141414;text-shadow:0.30px 0 0 #141414,-0.30px 0 0 #141414;transform:translate(433.98px,476.00px) scale(0.7850,1);"><svg class="g1" style="" viewBox="0 0 1139 1409"><path transform="translate(0,1409) scale(1,-1)" d="M455 0V1237L162 1010V1180L495 1409H756V0Z"/></svg>0.5</div>
<div class="t" style="font-size:17.4px;font-weight:normal;color:#141414;text-shadow:0.30px 0 0 #141414,-0.30px 0 0 #141414;transform:translate(523.55px,476.00px) scale(0.7850,1);"><svg class="g1" style="" viewBox="0 0 1139 1409"><path transform="translate(0,1409) scale(1,-1)" d="M455 0V1237L162 1010V1180L495 1409H756V0Z"/></svg>3.2</div>
<div class="t" style="font-size:17.4px;font-weight:normal;color:#0a3517;text-shadow:0.30px 0 0 #0a3517,-0.30px 0 0 #0a3517;transform:translate(613.17px,476.00px) scale(0.7850,1);"><svg class="g1" style="" viewBox="0 0 1139 1409"><path transform="translate(0,1409) scale(1,-1)" d="M455 0V1237L162 1010V1180L495 1409H756V0Z"/></svg><svg class="g1" style="" viewBox="0 0 1139 1409"><path transform="translate(0,1409) scale(1,-1)" d="M455 0V1237L162 1010V1180L495 1409H756V0Z"/></svg>.9</div>
<div class="t" style="font-size:17.4px;font-weight:normal;color:#141414;text-shadow:0.30px 0 0 #141414,-0.30px 0 0 #141414;transform:translate(702.25px,476.00px) scale(0.7850,1);"><svg class="g1" style="" viewBox="0 0 1139 1409"><path transform="translate(0,1409) scale(1,-1)" d="M455 0V1237L162 1010V1180L495 1409H756V0Z"/></svg>0.2</div>
<div class="t" style="font-size:17.4px;font-weight:normal;color:#141414;text-shadow:0.30px 0 0 #141414,-0.30px 0 0 #141414;transform:translate(791.89px,476.00px) scale(0.7850,1);"><svg class="g1" style="" viewBox="0 0 1139 1409"><path transform="translate(0,1409) scale(1,-1)" d="M455 0V1237L162 1010V1180L495 1409H756V0Z"/></svg>7.8</div>
<div class="t" style="font-size:17.4px;font-weight:normal;color:#141414;text-shadow:0.30px 0 0 #141414,-0.30px 0 0 #141414;transform:translate(880.31px,476.00px) scale(0.7850,1);"><svg class="g1" style="" viewBox="0 0 1139 1409"><path transform="translate(0,1409) scale(1,-1)" d="M455 0V1237L162 1010V1180L495 1409H756V0Z"/></svg>4.0</div>
<div class="t" style="font-size:17.8px;font-weight:normal;color:#141414;letter-spacing:0.941px;text-shadow:0.30px 0 0 #141414,-0.30px 0 0 #141414;transform:translate(38.33px,500.00px) scale(0.7600,1);">Route 47</div>
<div class="t" style="font-size:17.4px;font-weight:normal;color:#141414;text-shadow:0.30px 0 0 #141414,-0.30px 0 0 #141414;transform:translate(165.93px,500.00px) scale(0.7850,1);"><svg class="g1" style="" viewBox="0 0 1139 1409"><path transform="translate(0,1409) scale(1,-1)" d="M455 0V1237L162 1010V1180L495 1409H756V0Z"/></svg>2.<svg class="g1" style="" viewBox="0 0 1139 1409"><path transform="translate(0,1409) scale(1,-1)" d="M455 0V1237L162 1010V1180L495 1409H756V0Z"/></svg></div>
<div class="t" style="font-size:17.4px;font-weight:normal;color:#141414;text-shadow:0.30px 0 0 #141414,-0.30px 0 0 #141414;transform:translate(255.44px,500.00px) scale(0.7850,1);"><svg class="g1" style="" viewBox="0 0 1139 1409"><path transform="translate(0,1409) scale(1,-1)" d="M455 0V1237L162 1010V1180L495 1409H756V0Z"/></svg>4.3</div>
<div class="t" style="font-size:17.4px;font-weight:normal;color:#141414;text-shadow:0.30px 0 0 #141414,-0.30px 0 0 #141414;transform:translate(344.60px,500.00px) scale(0.7850,1);"><svg class="g1" style="" viewBox="0 0 1139 1409"><path transform="translate(0,1409) scale(1,-1)" d="M455 0V1237L162 1010V1180L495 1409H756V0Z"/></svg>3.2</div>
<div class="t" style="font-size:17.4px;font-weight:normal;color:#141414;text-shadow:0.30px 0 0 #141414,-0.30px 0 0 #141414;transform:translate(433.89px,500.00px) scale(0.7850,1);"><svg class="g1" style="" viewBox="0 0 1139 1409"><path transform="translate(0,1409) scale(1,-1)" d="M455 0V1237L162 1010V1180L495 1409H756V0Z"/></svg>3.4</div>
<div class="t" style="font-size:17.4px;font-weight:normal;color:#141414;text-shadow:0.30px 0 0 #141414,-0.30px 0 0 #141414;transform:translate(523.55px,500.00px) scale(0.7850,1);"><svg class="g1" style="" viewBox="0 0 1139 1409"><path transform="translate(0,1409) scale(1,-1)" d="M455 0V1237L162 1010V1180L495 1409H756V0Z"/></svg>4.7</div>
<div class="t" style="font-size:17.4px;font-weight:normal;color:#0a3517;text-shadow:0.30px 0 0 #0a3517,-0.30px 0 0 #0a3517;transform:translate(612.68px,500.00px) scale(0.7850,1);"><svg class="g1" style="" viewBox="0 0 1139 1409"><path transform="translate(0,1409) scale(1,-1)" d="M455 0V1237L162 1010V1180L495 1409H756V0Z"/></svg>4.<svg class="g1" style="" viewBox="0 0 1139 1409"><path transform="translate(0,1409) scale(1,-1)" d="M455 0V1237L162 1010V1180L495 1409H756V0Z"/></svg></div>
<div class="t" style="font-size:17.4px;font-weight:normal;color:#141414;text-shadow:0.30px 0 0 #141414,-0.30px 0 0 #141414;transform:translate(702.60px,500.00px) scale(0.7850,1);"><svg class="g1" style="" viewBox="0 0 1139 1409"><path transform="translate(0,1409) scale(1,-1)" d="M455 0V1237L162 1010V1180L495 1409H756V0Z"/></svg><svg class="g1" style="" viewBox="0 0 1139 1409"><path transform="translate(0,1409) scale(1,-1)" d="M455 0V1237L162 1010V1180L495 1409H756V0Z"/></svg>.4</div>
<div class="t" style="font-size:17.4px;font-weight:normal;color:#141414;text-shadow:0.30px 0 0 #141414,-0.30px 0 0 #141414;transform:translate(791.79px,500.00px) scale(0.7850,1);"><svg class="g1" style="" viewBox="0 0 1139 1409"><path transform="translate(0,1409) scale(1,-1)" d="M455 0V1237L162 1010V1180L495 1409H756V0Z"/></svg>5.4</div>
<div class="t" style="font-size:17.4px;font-weight:normal;color:#141414;text-shadow:0.30px 0 0 #141414,-0.30px 0 0 #141414;transform:translate(880.24px,500.00px) scale(0.7850,1);"><svg class="g1" style="" viewBox="0 0 1139 1409"><path transform="translate(0,1409) scale(1,-1)" d="M455 0V1237L162 1010V1180L495 1409H756V0Z"/></svg>3.4</div>
<div class="t" style="font-size:17.8px;font-weight:normal;color:#141414;letter-spacing:0.943px;text-shadow:0.30px 0 0 #141414,-0.30px 0 0 #141414;transform:translate(38.28px,524.00px) scale(0.7600,1);">Route 58</div>
<div class="t" style="font-size:17.4px;font-weight:normal;color:#141414;text-shadow:0.30px 0 0 #141414,-0.30px 0 0 #141414;transform:translate(170.06px,524.00px) scale(0.7850,1);">4.9</div>
<div class="t" style="font-size:17.4px;font-weight:normal;color:#141414;text-shadow:0.30px 0 0 #141414,-0.30px 0 0 #141414;transform:translate(255.44px,524.00px) scale(0.7850,1);"><svg class="g1" style="" viewBox="0 0 1139 1409"><path transform="translate(0,1409) scale(1,-1)" d="M455 0V1237L162 1010V1180L495 1409H756V0Z"/></svg>5.8</div>
<div class="t" style="font-size:17.4px;font-weight:normal;color:#0a3517;text-shadow:0.30px 0 0 #0a3517,-0.30px 0 0 #0a3517;transform:translate(344.44px,524.00px) scale(0.7850,1);"><svg class="g1" style="" viewBox="0 0 1139 1409"><path transform="translate(0,1409) scale(1,-1)" d="M455 0V1237L162 1010V1180L495 1409H756V0Z"/></svg>0.4</div>
<div class="t" style="font-size:17.4px;font-weight:normal;color:#141414;text-shadow:0.30px 0 0 #141414,-0.30px 0 0 #141414;transform:translate(437.97px,524.00px) scale(0.7850,1);">6.9</div>
<div class="t" style="font-size:17.4px;font-weight:normal;color:#141414;text-shadow:0.30px 0 0 #141414,-0.30px 0 0 #141414;transform:translate(523.49px,524.00px) scale(0.7850,1);"><svg class="g1" style="" viewBox="0 0 1139 1409"><path transform="translate(0,1409) scale(1,-1)" d="M455 0V1237L162 1010V1180L495 1409H756V0Z"/></svg>3.3</div>
<div class="t" style="font-size:17.4px;font-weight:normal;color:#0a3517;text-shadow:0.30px 0 0 #0a3517,-0.30px 0 0 #0a3517;transform:translate(612.68px,524.00px) scale(0.7850,1);"><svg class="g1" style="" viewBox="0 0 1139 1409"><path transform="translate(0,1409) scale(1,-1)" d="M455 0V1237L162 1010V1180L495 1409H756V0Z"/></svg>0.<svg class="g1" style="" viewBox="0 0 1139 1409"><path transform="translate(0,1409) scale(1,-1)" d="M455 0V1237L162 1010V1180L495 1409H756V0Z"/></svg></div>
<div class="t" style="font-size:17.4px;font-weight:normal;color:#141414;text-shadow:0.30px 0 0 #141414,-0.30px 0 0 #141414;transform:translate(706.16px,524.00px) scale(0.7850,1);">6.3</div>
<div class="t" style="font-size:17.4px;font-weight:normal;color:#141414;text-shadow:0.30px 0 0 #141414,-0.30px 0 0 #141414;transform:translate(791.89px,524.00px) scale(0.7850,1);"><svg class="g1" style="" viewBox="0 0 1139 1409"><path transform="translate(0,1409) scale(1,-1)" d="M455 0V1237L162 1010V1180L495 1409H756V0Z"/></svg>3.3</div>
<div class="t" style="font-size:17.4px;font-weight:normal;color:#141414;text-shadow:0.30px 0 0 #141414,-0.30px 0 0 #141414;transform:translate(884.32px,524.00px) scale(0.7850,1);">9.8</div>
<div class="t" style="font-size:17.8px;font-weight:normal;color:#141414;letter-spacing:0.941px;text-shadow:0.30px 0 0 #141414,-0.30px 0 0 #141414;transform:translate(38.33px,548.00px) scale(0.7600,1);">Route <svg class="g1" style="margin-right:0.941px;" viewBox="0 0 1139 1409"><path transform="translate(0,1409) scale(1,-1)" d="M455 0V1237L162 1010V1180L495 1409H756V0Z"/></svg>2</div>
<div class="t" style="font-size:17.4px;font-weight:normal;color:#141414;text-shadow:0.30px 0 0 #141414,-0.30px 0 0 #141414;transform:translate(165.89px,548.00px) scale(0.7850,1);"><svg class="g1" style="" viewBox="0 0 1139 1409"><path transform="translate(0,1409) scale(1,-1)" d="M455 0V1237L162 1010V1180L495 1409H756V0Z"/></svg>7.6</div>
<div class="t" style="font-size:17.4px;font-weight:normal;color:#141414;text-shadow:0.30px 0 0 #141414,-0.30px 0 0 #141414;transform:translate(255.75px,548.00px) scale(0.7850,1);">32.2</div>
<div class="t" style="font-size:17.4px;font-weight:normal;color:#0a3517;text-shadow:0.30px 0 0 #0a3517,-0.30px 0 0 #0a3517;transform:translate(344.73px,548.00px) scale(0.7850,1);">24.9</div>
<div class="t" style="font-size:17.4px;font-weight:normal;color:#141414;text-shadow:0.30px 0 0 #141414,-0.30px 0 0 #141414;transform:translate(433.99px,548.00px) scale(0.7850,1);"><svg class="g1" style="" viewBox="0 0 1139 1409"><path transform="translate(0,1409) scale(1,-1)" d="M455 0V1237L162 1010V1180L495 1409H756V0Z"/></svg>8.6</div>
<div class="t" style="font-size:17.4px;font-weight:normal;color:#141414;text-shadow:0.30px 0 0 #141414,-0.30px 0 0 #141414;transform:translate(523.72px,548.00px) scale(0.7850,1);">29.7</div>
<div class="t" style="font-size:17.4px;font-weight:normal;color:#0a3517;text-shadow:0.30px 0 0 #0a3517,-0.30px 0 0 #0a3517;transform:translate(612.87px,548.00px) scale(0.7850,1);">24.2</div>
<div class="t" style="font-size:17.4px;font-weight:normal;color:#141414;text-shadow:0.30px 0 0 #141414,-0.30px 0 0 #141414;transform:translate(706.21px,548.00px) scale(0.7850,1);">8.6</div>
<div class="t" style="font-size:17.4px;font-weight:normal;color:#141414;text-shadow:0.30px 0 0 #141414,-0.30px 0 0 #141414;transform:translate(792.05px,548.00px) scale(0.7850,1);">26.5</div>
<div class="t" style="font-size:17.4px;font-weight:normal;color:#141414;text-shadow:0.30px 0 0 #141414,-0.30px 0 0 #141414;transform:translate(880.34px,548.00px) scale(0.7850,1);"><svg class="g1" style="" viewBox="0 0 1139 1409"><path transform="translate(0,1409) scale(1,-1)" d="M455 0V1237L162 1010V1180L495 1409H756V0Z"/></svg>7.6</div>
<div class="t" style="font-size:17.8px;font-weight:normal;color:#141414;letter-spacing:1.034px;text-shadow:0.30px 0 0 #141414,-0.30px 0 0 #141414;transform:translate(26.24px,572.00px) scale(0.7600,1);">Route <svg class="g1" style="margin-right:1.034px;" viewBox="0 0 1139 1409"><path transform="translate(0,1409) scale(1,-1)" d="M455 0V1237L162 1010V1180L495 1409H756V0Z"/></svg>5WH</div>
<div class="t" style="font-size:17.4px;font-weight:normal;color:#141414;text-shadow:0.30px 0 0 #141414,-0.30px 0 0 #141414;transform:translate(166.12px,572.00px) scale(0.7850,1);">29.2</div>
<div class="t" style="font-size:17.4px;font-weight:normal;color:#141414;text-shadow:0.30px 0 0 #141414,-0.30px 0 0 #141414;transform:translate(255.80px,572.00px) scale(0.7850,1);">45.3</div>
<div class="t" style="font-size:17.4px;font-weight:normal;color:#0a3517;text-shadow:0.30px 0 0 #0a3517,-0.30px 0 0 #0a3517;transform:translate(344.80px,572.00px) scale(0.7850,1);">37.3</div>
<div class="t" style="font-size:17.4px;font-weight:normal;color:#141414;text-shadow:0.30px 0 0 #141414,-0.30px 0 0 #141414;transform:translate(434.23px,572.00px) scale(0.7850,1);">33.5</div>
<div class="t" style="font-size:17.4px;font-weight:normal;color:#141414;text-shadow:0.30px 0 0 #141414,-0.30px 0 0 #141414;transform:translate(523.73px,572.00px) scale(0.7850,1);">38.5</div>
<div class="t" style="font-size:17.4px;font-weight:normal;color:#0a3517;text-shadow:0.30px 0 0 #0a3517,-0.30px 0 0 #0a3517;transform:translate(612.87px,572.00px) scale(0.7850,1);">36.0</div>
<div class="t" style="font-size:17.4px;font-weight:normal;color:#141414;text-shadow:0.30px 0 0 #141414,-0.30px 0 0 #141414;transform:translate(702.40px,572.00px) scale(0.7850,1);">23.<svg class="g1" style="" viewBox="0 0 1139 1409"><path transform="translate(0,1409) scale(1,-1)" d="M455 0V1237L162 1010V1180L495 1409H756V0Z"/></svg></div>
<div class="t" style="font-size:17.4px;font-weight:normal;color:#141414;text-shadow:0.30px 0 0 #141414,-0.30px 0 0 #141414;transform:translate(792.13px,572.00px) scale(0.7850,1);">36.5</div>
<div class="t" style="font-size:17.4px;font-weight:normal;color:#141414;text-shadow:0.30px 0 0 #141414,-0.30px 0 0 #141414;transform:translate(880.52px,572.00px) scale(0.7850,1);">29.8</div>
<div class="t" style="font-size:17.8px;font-weight:normal;color:#141414;letter-spacing:0.980px;text-shadow:0.30px 0 0 #141414,-0.30px 0 0 #141414;transform:translate(24.02px,596.00px) scale(0.7600,1);">Route 22 XW</div>
<div class="t" style="font-size:17.4px;font-weight:normal;color:#141414;text-shadow:0.30px 0 0 #141414,-0.30px 0 0 #141414;transform:translate(166.42px,596.00px) scale(0.7850,1);"><svg class="g1" style="" viewBox="0 0 1139 1409"><path transform="translate(0,1409) scale(1,-1)" d="M455 0V1237L162 1010V1180L495 1409H756V0Z"/></svg><svg class="g1" style="" viewBox="0 0 1139 1409"><path transform="translate(0,1409) scale(1,-1)" d="M455 0V1237L162 1010V1180L495 1409H756V0Z"/></svg>.9</div>
<div class="t" style="font-size:17.4px;font-weight:normal;color:#141414;text-shadow:0.30px 0 0 #141414,-0.30px 0 0 #141414;transform:translate(255.62px,596.00px) scale(0.7850,1);">27.6</div>
<div class="t" style="font-size:17.4px;font-weight:normal;color:#0a3517;text-shadow:0.30px 0 0 #0a3517,-0.30px 0 0 #0a3517;transform:translate(344.54px,596.00px) scale(0.7850,1);"><svg class="g1" style="" viewBox="0 0 1139 1409"><path transform="translate(0,1409) scale(1,-1)" d="M455 0V1237L162 1010V1180L495 1409H756V0Z"/></svg>9.8</div>
<div class="t" style="font-size:17.4px;font-weight:normal;color:#141414;text-shadow:0.30px 0 0 #141414,-0.30px 0 0 #141414;transform:translate(434.13px,596.00px) scale(0.7850,1);">20.0</div>
<div class="t" style="font-size:17.4px;font-weight:normal;color:#141414;text-shadow:0.30px 0 0 #141414,-0.30px 0 0 #141414;transform:translate(523.70px,596.00px) scale(0.7850,1);">24.<svg class="g1" style="" viewBox="0 0 1139 1409"><path transform="translate(0,1409) scale(1,-1)" d="M455 0V1237L162 1010V1180L495 1409H756V0Z"/></svg></div>
<div class="t" style="font-size:17.4px;font-weight:normal;color:#0a3517;text-shadow:0.30px 0 0 #0a3517,-0.30px 0 0 #0a3517;transform:translate(612.85px,596.00px) scale(0.7850,1);">22.<svg class="g1" style="" viewBox="0 0 1139 1409"><path transform="translate(0,1409) scale(1,-1)" d="M455 0V1237L162 1010V1180L495 1409H756V0Z"/></svg></div>
<div class="t" style="font-size:17.4px;font-weight:normal;color:#141414;text-shadow:0.30px 0 0 #141414,-0.30px 0 0 #141414;transform:translate(706.16px,596.00px) scale(0.7850,1);">9.5</div>
<div class="t" style="font-size:17.4px;font-weight:normal;color:#141414;text-shadow:0.30px 0 0 #141414,-0.30px 0 0 #141414;transform:translate(792.07px,596.00px) scale(0.7850,1);">23.6</div>
<div class="t" style="font-size:17.4px;font-weight:normal;color:#141414;text-shadow:0.30px 0 0 #141414,-0.30px 0 0 #141414;transform:translate(880.34px,596.00px) scale(0.7850,1);"><svg class="g1" style="" viewBox="0 0 1139 1409"><path transform="translate(0,1409) scale(1,-1)" d="M455 0V1237L162 1010V1180L495 1409H756V0Z"/></svg>6.6</div>
<div class="t" style="font-size:17.8px;font-weight:normal;color:#141414;letter-spacing:0.944px;text-shadow:0.30px 0 0 #141414,-0.30px 0 0 #141414;transform:translate(38.24px,620.00px) scale(0.7600,1);">Route 30</div>
<div class="t" style="font-size:17.4px;font-weight:normal;color:#141414;text-shadow:0.30px 0 0 #141414,-0.30px 0 0 #141414;transform:translate(170.04px,620.00px) scale(0.7850,1);">4.3</div>
<div class="t" style="font-size:17.4px;font-weight:normal;color:#141414;text-shadow:0.30px 0 0 #141414,-0.30px 0 0 #141414;transform:translate(255.63px,620.00px) scale(0.7850,1);">23.9</div>
<div class="t" style="font-size:17.4px;font-weight:normal;color:#0a3517;text-shadow:0.30px 0 0 #0a3517,-0.30px 0 0 #0a3517;transform:translate(344.58px,620.00px) scale(0.7850,1);"><svg class="g1" style="" viewBox="0 0 1139 1409"><path transform="translate(0,1409) scale(1,-1)" d="M455 0V1237L162 1010V1180L495 1409H756V0Z"/></svg>4.<svg class="g1" style="" viewBox="0 0 1139 1409"><path transform="translate(0,1409) scale(1,-1)" d="M455 0V1237L162 1010V1180L495 1409H756V0Z"/></svg></div>
<div class="t" style="font-size:17.4px;font-weight:normal;color:#141414;text-shadow:0.30px 0 0 #141414,-0.30px 0 0 #141414;transform:translate(433.89px,620.00px) scale(0.7850,1);"><svg class="g1" style="" viewBox="0 0 1139 1409"><path transform="translate(0,1409) scale(1,-1)" d="M455 0V1237L162 1010V1180L495 1409H756V0Z"/></svg>9.4</div>
<div class="t" style="font-size:17.4px;font-weight:normal;color:#141414;text-shadow:0.30px 0 0 #141414,-0.30px 0 0 #141414;transform:translate(523.63px,620.00px) scale(0.7850,1);">25.0</div>
<div class="t" style="font-size:17.4px;font-weight:normal;color:#0a3517;text-shadow:0.30px 0 0 #0a3517,-0.30px 0 0 #0a3517;transform:translate(612.87px,620.00px) scale(0.7850,1);">22.2</div>
<div class="t" style="font-size:17.4px;font-weight:normal;color:#141414;text-shadow:0.30px 0 0 #141414,-0.30px 0 0 #141414;transform:translate(702.21px,620.00px) scale(0.7850,1);"><svg class="g1" style="" viewBox="0 0 1139 1409"><path transform="translate(0,1409) scale(1,-1)" d="M455 0V1237L162 1010V1180L495 1409H756V0Z"/></svg>4.9</div>
<div class="t" style="font-size:17.4px;font-weight:normal;color:#141414;text-shadow:0.30px 0 0 #141414,-0.30px 0 0 #141414;transform:translate(791.88px,620.00px) scale(0.7850,1);"><svg class="g1" style="" viewBox="0 0 1139 1409"><path transform="translate(0,1409) scale(1,-1)" d="M455 0V1237L162 1010V1180L495 1409H756V0Z"/></svg>9.5</div>
<div class="t" style="font-size:17.4px;font-weight:normal;color:#141414;text-shadow:0.30px 0 0 #141414,-0.30px 0 0 #141414;transform:translate(880.40px,620.00px) scale(0.7850,1);"><svg class="g1" style="" viewBox="0 0 1139 1409"><path transform="translate(0,1409) scale(1,-1)" d="M455 0V1237L162 1010V1180L495 1409H756V0Z"/></svg>7.2</div>
<div class="t" style="font-size:17.8px;font-weight:normal;color:#141414;letter-spacing:0.995px;text-shadow:0.30px 0 0 #141414,-0.30px 0 0 #141414;transform:translate(39.69px,674.00px) scale(0.7800,1);">Regular</div>
<div class="t" style="font-size:17.8px;font-weight:normal;color:#141414;letter-spacing:0.799px;text-shadow:0.30px 0 0 #141414,-0.30px 0 0 #141414;transform:translate(25.69px,697.00px) scale(0.7800,1);">Fixed Route</div>
<div class="t" style="font-size:17.8px;font-weight:normal;color:#ea8848;letter-spacing:0.627px;text-shadow:0.30px 0 0 #ea8848,-0.30px 0 0 #ea8848;transform:translate(26.99px,803.00px) scale(0.7800,1);">Flex Routes</div>
<div class="t" style="font-size:17.2px;font-weight:normal;color:#242424;letter-spacing:0.770px;text-shadow:0.18px 0 0 #242424,-0.18px 0 0 #242424;transform:translate(254.90px,665.00px) scale(0.8500,1);">route doing well</div>
<div class="t" style="font-size:17.2px;font-weight:normal;color:#242424;letter-spacing:0.576px;text-shadow:0.18px 0 0 #242424,-0.18px 0 0 #242424;transform:translate(443.70px,666.00px) scale(0.8500,1);">possible minor changes</div>
<div class="t" style="font-size:17.2px;font-weight:normal;color:#242424;letter-spacing:0.626px;text-shadow:0.18px 0 0 #242424,-0.18px 0 0 #242424;transform:translate(657.90px,665.00px) scale(0.8500,1);">possible major changes</div>
<div class="t" style="font-size:17.4px;font-weight:normal;color:#141414;text-shadow:0.30px 0 0 #141414,-0.30px 0 0 #141414;transform:translate(323.11px,697.00px) scale(0.7868,1);"><svg class="g1" style="" viewBox="0 0 1139 1409"><path transform="translate(0,1409) scale(1,-1)" d="M455 0V1237L162 1010V1180L495 1409H756V0Z"/></svg>0+</div>
<div class="t" style="font-size:17.4px;font-weight:normal;color:#141414;text-shadow:0.30px 0 0 #141414,-0.30px 0 0 #141414;transform:translate(534.83px,697.00px) scale(0.8286,1);">7 - 9.9</div>
<div class="t" style="font-size:17.8px;font-weight:normal;color:#141414;letter-spacing:1.150px;text-shadow:0.30px 0 0 #141414,-0.30px 0 0 #141414;transform:translate(733.88px,696.00px) scale(0.7600,1);">Under 7</div>
<div class="t" style="font-size:17.2px;font-weight:normal;color:#242424;letter-spacing:0.770px;text-shadow:0.18px 0 0 #242424,-0.18px 0 0 #242424;transform:translate(254.90px,785.00px) scale(0.8500,1);">route doing well</div>
<div class="t" style="font-size:17.2px;font-weight:normal;color:#242424;letter-spacing:0.576px;text-shadow:0.18px 0 0 #242424,-0.18px 0 0 #242424;transform:translate(443.70px,786.00px) scale(0.8500,1);">possible minor changes</div>
<div class="t" style="font-size:17.2px;font-weight:normal;color:#242424;letter-spacing:0.626px;text-shadow:0.18px 0 0 #242424,-0.18px 0 0 #242424;transform:translate(657.90px,785.00px) scale(0.8500,1);">possible major changes</div>
<div class="t" style="font-size:17.4px;font-weight:normal;color:#141414;text-shadow:0.30px 0 0 #141414,-0.30px 0 0 #141414;transform:translate(323.42px,817.00px) scale(0.8344,1);">7+</div>
<div class="t" style="font-size:17.4px;font-weight:normal;color:#141414;text-shadow:0.30px 0 0 #141414,-0.30px 0 0 #141414;transform:translate(535.22px,817.00px) scale(0.8204,1);">4 - 6.9</div>
<div class="t" style="font-size:17.8px;font-weight:normal;color:#141414;letter-spacing:1.083px;text-shadow:0.30px 0 0 #141414,-0.30px 0 0 #141414;transform:translate(733.88px,816.00px) scale(0.7600,1);">Under 4</div>
<div class="t" style="font-size:7.5px;font-weight:bold;color:#000;text-shadow:0.30px 0 0 #000,-0.30px 0 0 #000;transform:translate(893.00px,350.30px) rotate(-90deg) scale(0.7872,1) translate(-0.21px,-6.00px);">Max per trip</div>
<div class="t" style="font-size:8.5px;font-weight:bold;color:#000;text-shadow:0.35px 0 0 #000,-0.35px 0 0 #000;transform:translate(924.60px,351.30px) rotate(-90deg) scale(0.6881,1) translate(0.14px,-7.00px);">Average</div>
</div>
</body></html>
